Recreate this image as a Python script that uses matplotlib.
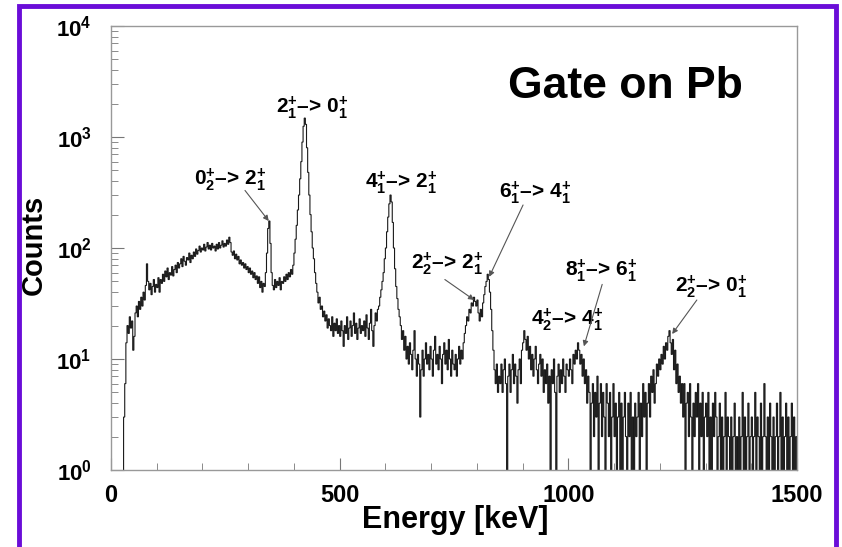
import numpy as np
import matplotlib
matplotlib.use("Agg")
import matplotlib.pyplot as plt
from matplotlib.patches import Rectangle
from matplotlib.ticker import LogLocator, MultipleLocator, FixedLocator

# ---- data (2.5 keV bins, counts) ----
bin_width = 2.5
counts = [
    0, 0, 0, 0, 0, 0, 0, 0, 0, 0, 0, 3, 6, 14, 20, 17, 24, 19, 22, 12,                    # 0-47.5
    16, 26, 30, 24, 33, 28, 36, 30, 40, 34, 46, 72, 50, 42, 48, 38, 45, 52, 40, 47,       # 50-97.5
    44, 54, 40, 52, 48, 58, 50, 62, 55, 66, 52, 60, 57, 68, 56, 64, 70, 60, 74, 66,       # 100-147.5
    72, 80, 68, 84, 76, 70, 82, 78, 90, 74, 86, 80, 92, 84, 98, 88, 95, 104, 92, 100,     # 150-197.5
    96, 108, 94, 102, 112, 98, 106, 96, 110, 100, 104, 94, 108, 98, 112, 100, 106, 116, 102, 110,  # 200-247.5
    104, 118, 108, 125, 112, 92, 86, 94, 80, 88, 78, 84, 72, 78, 70, 74, 66, 72, 64, 68,  # 250-297.5
    60, 66, 58, 62, 54, 60, 52, 56, 48, 55, 44, 50, 40, 48, 45, 60, 90, 150, 175, 110,    # 300-347.5
    60, 46, 42, 52, 44, 50, 46, 54, 42, 50, 48, 55, 50, 58, 52, 60, 55, 64, 58, 70,       # 350-397.5
    90, 120, 160, 220, 300, 420, 600, 900, 1250, 1480, 1300, 800, 480, 300, 200, 140, 100, 80, 60, 48,  # 400-447.5
    40, 32, 36, 28, 30, 24, 27, 22, 25, 19, 23, 20, 18, 24, 16, 21, 18, 23, 17, 20,       # 450-497.5
    16, 22, 18, 13, 20, 17, 24, 15, 19, 22, 16, 20, 26, 17, 21, 15, 19, 23, 17, 20,       # 500-547.5
    18, 22, 16, 25, 19, 15, 21, 28, 18, 13, 20, 26, 22, 28, 30, 36, 42, 50, 60, 80,       # 550-597.5
    100, 140, 190, 250, 300, 260, 170, 100, 65, 45, 35, 28, 24, 20, 15, 18, 12, 16, 10, 13,  # 600-647.5
    9, 14, 11, 8, 12, 18, 10, 7, 11, 9, 3, 8, 12, 7, 10, 14, 9, 11, 8, 13,                # 650-697.5
    10, 7, 12, 16, 9, 11, 8, 13, 10, 6, 11, 14, 9, 12, 8, 15, 10, 7, 12, 9,               # 700-747.5
    8, 11, 7, 10, 13, 9, 12, 10, 14, 17, 20, 24, 22, 28, 26, 32, 30, 36, 33, 30,          # 750-797.5
    34, 26, 22, 28, 24, 32, 38, 45, 50, 58, 52, 40, 28, 18, 12, 8, 6, 9, 5, 7,            # 800-847.5
    6, 9, 5, 8, 10, 6, 0, 7, 9, 5, 8, 11, 6, 9, 7, 4, 8, 10, 6, 12,                       # 850-897.5
    14, 18, 15, 12, 16, 10, 13, 8, 11, 7, 10, 13, 8, 6, 9, 11, 7, 10, 5, 8,               # 900-947.5
    6, 9, 4, 7, 0, 8, 6, 10, 5, 0, 7, 9, 5, 8, 6, 10, 7, 5, 9, 8,                         # 950-997.5
    7, 10, 8, 6, 11, 9, 12, 10, 14, 12, 9, 11, 7, 10, 6, 8, 4, 7, 5, 0,                   # 1000-1047.5
    4, 6, 2, 5, 3, 7, 0, 4, 6, 2, 5, 3, 0, 6, 4, 2, 5, 0, 3, 6,                           # 1050-1097.5
    2, 4, 0, 3, 5, 1, 4, 0, 3, 5, 2, 0, 4, 2, 5, 1, 3, 0, 4, 2,                           # 1100-1147.5
    3, 5, 1, 4, 2, 6, 3, 5, 0, 4, 6, 3, 7, 5, 8, 4, 6, 9, 7, 10,                          # 1150-1197.5
    8, 11, 9, 13, 10, 14, 12, 16, 18, 14, 11, 15, 8, 12, 6, 9, 5, 7, 4, 6,                # 1200-1247.5
    3, 6, 0, 4, 5, 2, 6, 3, 0, 4, 2, 5, 3, 6, 1, 4, 2, 5, 0, 3,                           # 1250-1297.5
    4, 2, 5, 1, 3, 0, 4, 2, 5, 3, 0, 2, 4, 1, 3, 0, 2, 5, 1, 3,                           # 1300-1347.5
    2, 0, 3, 1, 2, 4, 0, 2, 1, 3, 0, 2, 5, 1, 3, 0, 2, 4, 1, 2,                           # 1350-1397.5
    3, 0, 2, 5, 1, 3, 2, 0, 4, 1, 2, 6, 2, 0, 3, 1, 4, 2, 0, 3,                           # 1400-1447.5
    1, 2, 4, 0, 2, 5, 1, 3, 0, 2, 4, 1, 3, 0, 2, 4, 1, 3, 0, 2,                           # 1450-1497.5
]
edges = np.arange(len(counts) + 1) * bin_width

# annotation labels: text, text position (E, counts), arrow tip, arrow start
labels = [
    ("0$^{+}_{2}$–> 2$^{+}_{1}$", (260, 410), (345, 175), (293, 330)),
    ("2$^{+}_{1}$–> 0$^{+}_{1}$", (440, 1830), None, None),
    ("4$^{+}_{1}$–> 2$^{+}_{1}$", (634, 385), None, None),
    ("2$^{+}_{2}$–> 2$^{+}_{1}$", (735, 72), (794, 34), (730, 52)),
    ("6$^{+}_{1}$–> 4$^{+}_{1}$", (927, 318), (827, 55), (901, 244)),
    ("4$^{+}_{2}$–> 4$^{+}_{1}$", (997, 22.6), None, None),
    ("8$^{+}_{1}$–> 6$^{+}_{1}$", (1071, 63), (1034, 13), (1074, 47)),
    ("2$^{+}_{2}$–> 0$^{+}_{1}$", (1312, 44.6), (1227, 16.8), (1281, 34)),
]

plt.rcParams['font.family'] = ['Liberation Sans', 'DejaVu Sans']
plt.rcParams['mathtext.default'] = 'bf'
plt.rcParams['mathtext.fontset'] = 'custom'
plt.rcParams['mathtext.bf'] = 'Liberation Sans:bold'

W, H = 842, 547
fig = plt.figure(figsize=(W / 100, H / 100), dpi=100)
ax = fig.add_axes([111 / W, 1 - 470 / H, (797 - 111) / W, (470 - 26) / H])

ax.stairs(counts, edges, color='#1a1a1a', linewidth=0.8)
ax.set_yscale('log', nonpositive='clip')
ax.set_xlim(0, 1500)
ax.set_ylim(1, 1e4)

for s in ax.spines.values():
    s.set_color('#999999')
    s.set_linewidth(1.0)

ax.xaxis.set_major_locator(FixedLocator([0, 500, 1000, 1500]))
ax.xaxis.set_minor_locator(MultipleLocator(100))
ax.yaxis.set_major_locator(LogLocator(base=10, numticks=10))
ax.yaxis.set_minor_locator(LogLocator(base=10, subs=np.arange(2, 10), numticks=20))
ax.tick_params(axis='both', which='both', direction='in', color='#777777', top=False, right=False)
ax.tick_params(axis='both', which='major', length=9, width=0.8)
ax.tick_params(axis='both', which='minor', length=5, width=0.6)
ax.tick_params(axis='x', which='major', pad=10, labelsize=17)
ax.tick_params(axis='y', which='major', pad=14, labelsize=16)
ax.set_xticks([0, 500, 1000, 1500])
ax.set_xticklabels(['0', '500', '1000', '1500'], fontweight='bold')
ax.set_yticks([1, 10, 100, 1000, 10000])
ax.set_yticklabels(['10$^{0}$', '10$^{1}$', '10$^{2}$', '10$^{3}$', '10$^{4}$'], fontweight='bold')

ax.set_xlabel('Energy [keV]', fontsize=22, fontweight='bold')
ax.set_ylabel('Counts', fontsize=21, fontweight='bold')
ax.xaxis.set_label_coords((455 - 111) / 686, -(520 - 470) / 444)
ax.yaxis.set_label_coords(-(111 - 34) / 686, (470 - 245) / 444)
ax.xaxis.label.set_verticalalignment('center')
ax.yaxis.label.set_verticalalignment('center')

ax.text((625 - 111) / 686, (470 - 86) / 444, 'Gate on Pb', transform=ax.transAxes,
        fontsize=32, fontweight='bold', ha='center', va='center')

for txt, pos, tip, start in labels:
    ax.text(pos[0], pos[1], txt, fontsize=15, fontweight='bold', ha='center', va='center')
    if tip is not None:
        ax.annotate('', xy=tip, xytext=start,
                    arrowprops=dict(arrowstyle='-|>', color='#555555', lw=0.8,
                                    mutation_scale=8, shrinkA=0, shrinkB=0))

# purple frame around the figure
fig.patches.append(Rectangle((19 / W, -0.05), (836 - 19) / W, 1.05 - 5.5 / H,
                             transform=fig.transFigure, fill=False,
                             edgecolor='#6a0dd8', linewidth=3.5))

fig.savefig('out.png', dpi=100)
